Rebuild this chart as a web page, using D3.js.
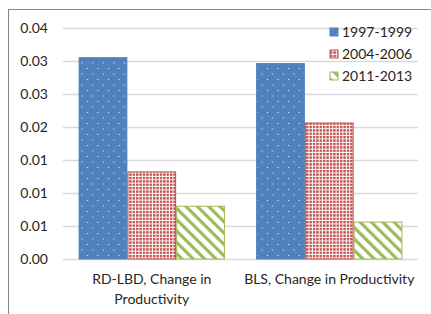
<!DOCTYPE html>
<html>
<head>
<meta charset="utf-8">
<script src="https://cdn.jsdelivr.net/npm/d3@7"></script>
<style>
  body { margin: 0; background: #fff; }
  text { font-family: Lato, "Open Sans", sans-serif; fill: #262626; }
</style>
</head>
<body>
<div id="chart"></div>
<script>
const categories = ["RD-LBD, Change in Productivity", "BLS, Change in Productivity"];
const categoryLines = [["RD-LBD, Change in", "Productivity"], ["BLS, Change in Productivity"]];
const seriesNames = ["1997-1999", "2004-2006", "2011-2013"];
const v1997 = [0.0305, 0.0296];
const v2004 = [0.0132, 0.0206];
const v2011 = [0.0080, 0.0056];
const tickValues = [0, 0.005, 0.01, 0.015, 0.02, 0.025, 0.03, 0.035];

const width = 431, height = 314;
const margin = { top: 28, right: 13, bottom: 55, left: 63 };

const svg = d3.select("#chart").append("svg")
  .attr("width", width)
  .attr("height", height);

// fill patterns like the excel ones
const defs = svg.append("defs");
const dots = defs.append("pattern").attr("id", "p0")
  .attr("patternUnits", "userSpaceOnUse").attr("width", 10.6).attr("height", 11);
dots.append("rect").attr("width", 10.6).attr("height", 11).attr("fill", "#4F81BD");
dots.append("rect").attr("x", 2).attr("y", 2).attr("width", 1).attr("height", 1).attr("fill", "#fff");
dots.append("rect").attr("x", 7.3).attr("y", 7.5).attr("width", 1).attr("height", 1).attr("fill", "#fff");

const grid = defs.append("pattern").attr("id", "p1")
  .attr("patternUnits", "userSpaceOnUse").attr("width", 3.4).attr("height", 3.4);
grid.append("rect").attr("width", 3.4).attr("height", 3.4).attr("fill", "#fff");
grid.append("rect").attr("width", 2.4).attr("height", 2.4).attr("fill", "#C0504D");

const stripes = defs.append("pattern").attr("id", "p2")
  .attr("patternUnits", "userSpaceOnUse").attr("width", 8).attr("height", 8)
  .attr("patternTransform", "rotate(-45)");
stripes.append("rect").attr("width", 8).attr("height", 8).attr("fill", "#fff");
stripes.append("rect").attr("width", 3.2).attr("height", 8).attr("fill", "#9BBB59");

const fills = ["url(#p0)", "url(#p1)", "url(#p2)"];
const strokes = ["#4F81BD", "#C0504D", "#9BBB59"];

// outer border
svg.append("rect")
  .attr("x", 8.5).attr("y", 9.5)
  .attr("width", width).attr("height", height)
  .attr("fill", "none").attr("stroke", "#868686");

const x0 = d3.scaleBand()
  .domain(categories)
  .range([margin.left, width - margin.right]);

const x1 = d3.scaleBand()
  .domain(seriesNames)
  .range([0, x0.bandwidth()])
  .paddingOuter(0.32)
  .paddingInner(0);

const y = d3.scaleLinear()
  .domain([0, 0.035])
  .range([height - margin.bottom, margin.top]);

// gridlines + labels
const yAxis = svg.append("g")
  .attr("transform", `translate(${margin.left},0)`)
  .call(d3.axisLeft(y).tickValues(tickValues).tickFormat(d3.format(".2f"))
    .tickSize(-(width - margin.left - margin.right)).tickPadding(15));
yAxis.select(".domain").remove();
yAxis.selectAll("line").attr("stroke", "#d9d9d9").attr("stroke-width", 1.3);
yAxis.selectAll("text").attr("font-size", 14).style("font-family", "Lato, sans-serif").attr("fill", "#262626");

const series = [v1997, v2004, v2011];
series.forEach((vals, si) => {
  svg.append("g").selectAll("rect")
    .data(categories)
    .join("rect")
    .attr("x", d => x0(d) + x1(seriesNames[si]) + 0.5)
    .attr("y", (d, i) => y(vals[i]))
    .attr("width", x1.bandwidth() - 1)
    .attr("height", (d, i) => y(0) - y(vals[i]))
    .attr("fill", fills[si])
    .attr("stroke", strokes[si])
    .attr("stroke-width", 1);
});

// category labels
categories.forEach((c, i) => {
  const t = svg.append("text")
    .attr("x", x0(c) + x0.bandwidth() / 2)
    .attr("y", 284)
    .attr("text-anchor", "middle")
    .attr("font-size", 14);
  categoryLines[i].forEach((ln, j) => {
    t.append("tspan").attr("x", x0(c) + x0.bandwidth() / 2).attr("dy", j ? 20 : 0).text(ln);
  });
});

// legend
const legend = svg.append("g").attr("transform", "translate(330,26)");
seriesNames.forEach((s, i) => {
  const g = legend.append("g").attr("transform", `translate(0,${i * 22})`);
  g.append("rect").attr("width", 8).attr("height", 8).attr("y", 2)
    .attr("fill", fills[i]).attr("stroke", strokes[i]);
  g.append("text").attr("x", 12).attr("y", 11).attr("font-size", 14).text(s);
});
</script>
</body>
</html>
